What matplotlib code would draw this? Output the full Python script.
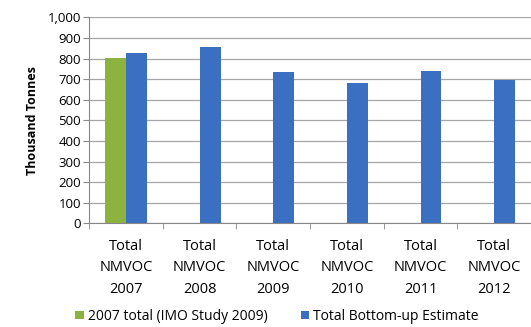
import matplotlib.pyplot as plt
import numpy as np

plt.rcParams['font.family'] = ['Open Sans', 'DejaVu Sans']

categories = ['Total\nNMVOC\n2007', 'Total\nNMVOC\n2008', 'Total\nNMVOC\n2009',
              'Total\nNMVOC\n2010', 'Total\nNMVOC\n2011', 'Total\nNMVOC\n2012']
imo_2009 = [801, np.nan, np.nan, np.nan, np.nan, np.nan]
bottom_up = [828, 857, 736, 679, 741, 696]

green = '#8cb33f'
blue = '#3b6fc2'

fig = plt.figure(figsize=(5.31, 3.27), dpi=100)
ax = fig.add_axes([0.168, 0.317, 0.832, 0.63])

x = np.arange(len(categories))
w = 0.284
ax.bar(x - w / 2, imo_2009, w, color=green, label='2007 total (IMO Study 2009)')
ax.bar(x + w / 2, bottom_up, w, color=blue, label='Total Bottom-up Estimate')

ax.set_xlim(-0.5, len(categories) - 0.5)
ax.set_ylim(0, 1000)
ax.set_yticks(np.arange(0, 1001, 100))
ax.set_yticklabels([f'{v:,}' for v in range(0, 1001, 100)])
ax.yaxis.grid(True, color='#a6a6a6', linewidth=0.9)
ax.set_axisbelow(True)

ax.set_xticks(x)
ax.set_xticklabels(categories, fontsize=10.5, linespacing=1.6)
ax.set_xticks(np.arange(-0.5, len(categories)), minor=True)
ax.tick_params(axis='x', which='major', length=0, pad=11)
ax.tick_params(axis='x', which='minor', length=4, color='#888888')
ax.tick_params(axis='y', length=4, color='#888888', labelsize=9.5, pad=2)

for s in ['top', 'right']:
    ax.spines[s].set_visible(False)
for s in ['left', 'bottom']:
    ax.spines[s].set_color('#888888')

ax.set_ylabel('Thousand Tonnes', fontsize=9, fontweight='bold', labelpad=6)

ax.legend(loc='upper center', bbox_to_anchor=(0.425, -0.355), ncol=2, frameon=False,
          fontsize=10, handlelength=0.6, handleheight=0.6, handletextpad=0.3,
          columnspacing=2.4)

fig.savefig('out.png', dpi=100)
